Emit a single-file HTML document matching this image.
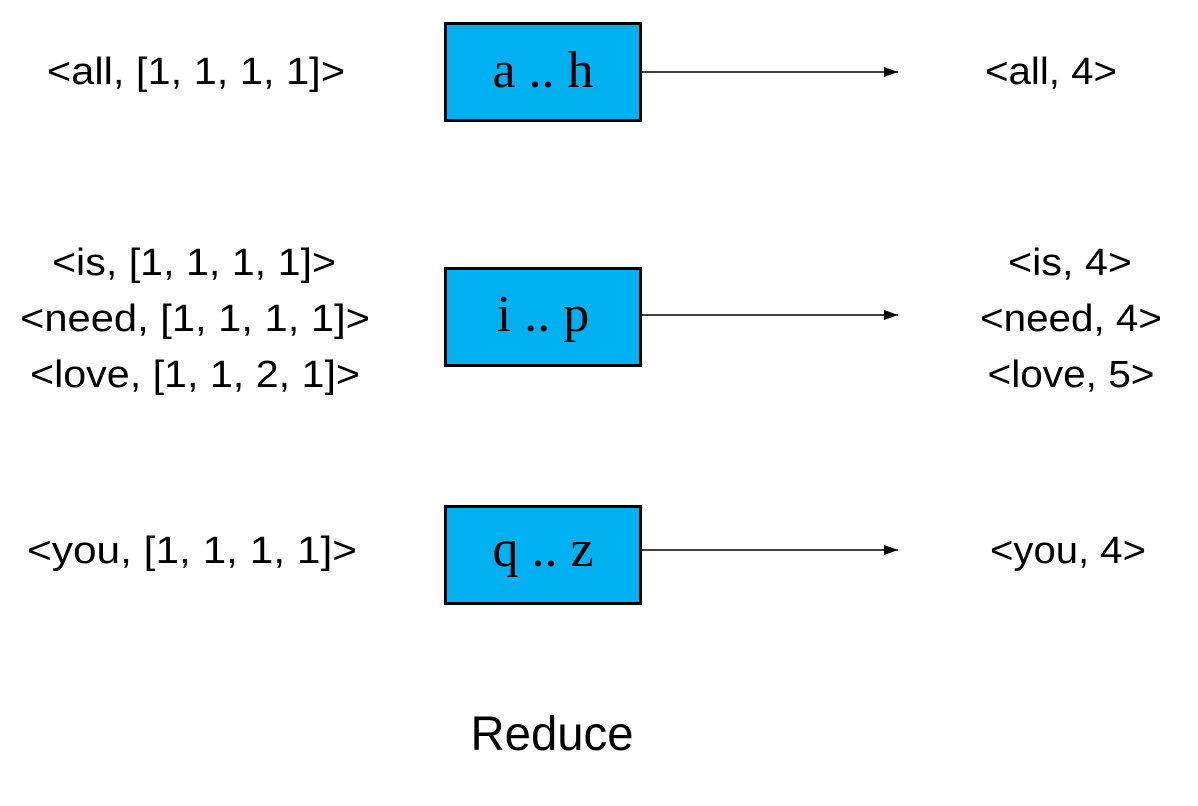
<!DOCTYPE html>
<html><head><meta charset="utf-8"><style>
html,body{margin:0;padding:0;background:#fff;}
svg{display:block;}
text{font-family:"Liberation Sans",sans-serif;fill:#000;}
.s{font-family:"Liberation Serif",serif;}
</style></head><body>
<svg width="1198" height="806" viewBox="0 0 1198 806">
<defs><marker id="ah" markerWidth="14" markerHeight="10" refX="14" refY="5" orient="auto" markerUnits="userSpaceOnUse"><path d="M0,0 L14,5 L0,10 Z" fill="#000"/></marker></defs>
<g>
<text x="196" y="84" font-size="38" text-anchor="middle" textLength="298" lengthAdjust="spacingAndGlyphs">&lt;all, [1, 1, 1, 1]&gt;</text>
<rect x="445.5" y="23.5" width="195" height="97" fill="#00b0f0" stroke="#000" stroke-width="3"/>
<text class="s" x="543" y="87" font-size="52" text-anchor="middle">a .. h</text>
<line x1="642" y1="72" x2="898" y2="72" stroke="#000" stroke-width="1.5" marker-end="url(#ah)"/>
<text x="1051" y="84" font-size="38" text-anchor="middle" textLength="132" lengthAdjust="spacingAndGlyphs">&lt;all, 4&gt;</text>
</g>
<g>
<text x="194" y="275" font-size="38" text-anchor="middle" textLength="284" lengthAdjust="spacingAndGlyphs">&lt;is, [1, 1, 1, 1]&gt;</text>
<text x="195" y="331" font-size="38" text-anchor="middle" textLength="350" lengthAdjust="spacingAndGlyphs">&lt;need, [1, 1, 1, 1]&gt;</text>
<text x="195" y="387" font-size="38" text-anchor="middle" textLength="330" lengthAdjust="spacingAndGlyphs">&lt;love, [1, 1, 2, 1]&gt;</text>
<rect x="445.5" y="268.5" width="195" height="97" fill="#00b0f0" stroke="#000" stroke-width="3"/>
<text class="s" x="543" y="331" font-size="52" text-anchor="middle">i .. p</text>
<line x1="642" y1="315" x2="898" y2="315" stroke="#000" stroke-width="1.5" marker-end="url(#ah)"/>
<text x="1070" y="275" font-size="38" text-anchor="middle" textLength="124" lengthAdjust="spacingAndGlyphs">&lt;is, 4&gt;</text>
<text x="1071" y="331" font-size="38" text-anchor="middle" textLength="182" lengthAdjust="spacingAndGlyphs">&lt;need, 4&gt;</text>
<text x="1071" y="387" font-size="38" text-anchor="middle" textLength="167" lengthAdjust="spacingAndGlyphs">&lt;love, 5&gt;</text>
</g>
<g>
<text x="192" y="563" font-size="38" text-anchor="middle" textLength="330" lengthAdjust="spacingAndGlyphs">&lt;you, [1, 1, 1, 1]&gt;</text>
<rect x="445.5" y="506.5" width="195" height="97" fill="#00b0f0" stroke="#000" stroke-width="3"/>
<text class="s" x="543" y="566" font-size="52" text-anchor="middle">q .. z</text>
<line x1="642" y1="550" x2="898" y2="550" stroke="#000" stroke-width="1.5" marker-end="url(#ah)"/>
<text x="1068" y="563" font-size="38" text-anchor="middle" textLength="156" lengthAdjust="spacingAndGlyphs">&lt;you, 4&gt;</text>
</g>
<text x="552" y="750" font-size="48" text-anchor="middle" textLength="163" lengthAdjust="spacingAndGlyphs">Reduce</text>
</svg>
</body></html>
